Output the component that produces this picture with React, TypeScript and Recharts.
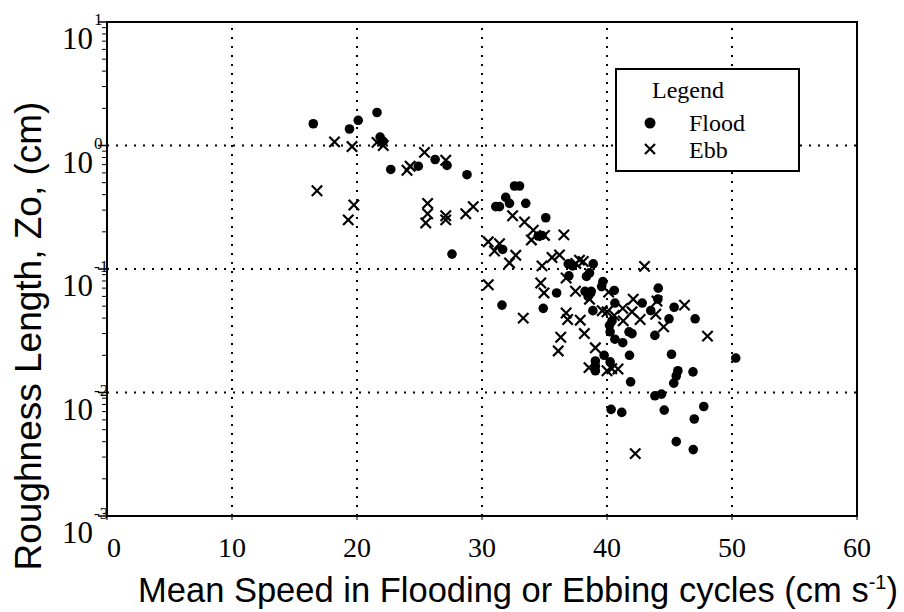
import React from 'react';
import { Legend, ReferenceArea, ReferenceLine, Scatter, ScatterChart, XAxis, YAxis } from 'recharts';

// Flood cycles: mean speed (cm/s) and roughness length Zo (cm)
const floodSpeed = [
  16.5, 19.4, 20.1, 21.6, 21.85, 22.1, 22.7, 24.9, 26.25, 27.2, 28.8, 27.6, 32.6, 33.0, 31.9, 32.2, 31.1, 31.4,
  33.5, 31.65, 35.1, 34.5, 34.8, 36.9, 37.25, 36.95, 38.9, 38.36, 38.6, 39.67, 39.57, 35.97, 38.24, 38.74, 38.49,
  40.58, 44.1, 44.07, 40.63, 42.82, 43.5, 45.37, 31.6, 34.9, 44.96, 43.83, 47.05, 40.2, 40.25, 41.76, 42.0, 40.63,
  41.26, 39.77, 41.8, 45.16, 39.07, 39.07, 39.07, 40.25, 41.89, 45.67, 45.54, 45.34, 46.88, 43.83, 44.36, 40.33,
  41.18, 44.58, 46.98, 45.54, 50.3, 47.74, 46.9, 38.87, 40.4,
];
const floodZo = [
  1.5, 1.36, 1.6, 1.85, 1.17, 1.08, 0.64, 0.68, 0.77, 0.69, 0.58, 0.132, 0.47, 0.47, 0.38, 0.34, 0.32, 0.32,
  0.34, 0.144, 0.26, 0.185, 0.187, 0.11, 0.106, 0.088, 0.11, 0.087, 0.093, 0.079, 0.072, 0.064, 0.066, 0.066, 0.06,
  0.067, 0.07, 0.057, 0.053, 0.053, 0.046, 0.049, 0.051, 0.048, 0.0395, 0.029, 0.0395, 0.035, 0.031, 0.031, 0.03, 0.027,
  0.0253, 0.02, 0.02, 0.0204, 0.018, 0.0164, 0.015, 0.0177, 0.0122, 0.015, 0.0136, 0.0119, 0.0147, 0.0094, 0.0097, 0.0073,
  0.0069, 0.0072, 0.0061, 0.004, 0.019, 0.0077, 0.00345, 0.046, 0.038,
];

// Ebb cycles
const ebbSpeed = [
  18.2, 19.6, 21.6, 22.1, 16.8, 19.75, 19.3, 25.4, 24.25, 24.0, 27.1, 25.65, 25.65, 25.5, 27.1, 27.1, 28.7, 29.3,
  32.45, 33.4, 30.5, 31.0, 31.4, 32.7, 32.2, 30.5, 33.95, 35.0, 36.55, 34.1, 34.8, 35.6, 36.2, 37.5, 37.8, 38.1,
  43.0, 36.73, 34.7, 34.96, 37.48, 38.6, 40.13, 42.1, 43.9, 46.2, 33.3, 36.73, 36.85, 37.86, 38.19, 39.62, 40.0,
  40.58, 41.26, 42.0, 41.3, 42.65, 44.53, 36.3, 36.1, 39.07, 38.56, 40.0, 40.38, 40.88, 48.04, 42.26, 44.0,
];
const ebbZo = [
  1.07, 0.98, 1.06, 1.0, 0.43, 0.33, 0.25, 0.88, 0.68, 0.63, 0.76, 0.34, 0.28, 0.236, 0.27, 0.25, 0.28, 0.32,
  0.27, 0.24, 0.166, 0.14, 0.16, 0.129, 0.112, 0.0746, 0.172, 0.187, 0.189, 0.206, 0.106, 0.124, 0.13, 0.111, 0.118, 0.115,
  0.105, 0.0846, 0.077, 0.064, 0.066, 0.057, 0.065, 0.057, 0.043, 0.051, 0.04, 0.044, 0.039, 0.0385, 0.03, 0.046, 0.045,
  0.042, 0.048, 0.045, 0.038, 0.039, 0.034, 0.028, 0.0217, 0.023, 0.0159, 0.015, 0.0156, 0.0155, 0.0286, 0.0032, 0.055,
];

const xTicks = [0, 10, 20, 30, 40, 50, 60];
const yMajor = [0.001, 0.01, 0.1, 1, 10];
const yExp = ['-3', '-2', '-1', '0', '1'];
const yMinorSteps = [2, 3, 4, 5, 6, 7, 8, 9];
const xGrid = [10, 20, 30, 40, 50];
const yGrid = [0.01, 0.1, 1];

const floodData = floodSpeed.map((s, i) => ({ speed: s, zo: floodZo[i] }));
const ebbData = ebbSpeed.map((s, i) => ({ speed: s, zo: ebbZo[i] }));

const yTicks = [...yMajor];
yMajor.slice(0, -1).forEach((d) => yMinorSteps.forEach((m) => yTicks.push(d * m)));
yTicks.sort((a, b) => a - b);

const serif = "'Liberation Serif', 'Times New Roman', serif";
const sans = "'Liberation Sans', Arial, sans-serif";

const YTick = (props: any) => {
  const { x, y, payload } = props;
  const idx = yMajor.indexOf(payload.value);
  if (idx < 0) {
    return <line x1={x} x2={x - 5} y1={y} y2={y} stroke="#000" strokeWidth={1} />;
  }
  return (
    <g>
      <line x1={x} x2={x - 9} y1={y} y2={y} stroke="#000" strokeWidth={1.5} />
      <text x={x - 14} y={y + 27} textAnchor="end" fontFamily={serif} fontSize={31} fill="#000">
        10
      </text>
      <text x={x - 13} y={y + 3} textAnchor="start" fontFamily={serif} fontSize={17} fill="#000">
        {yExp[idx]}
      </text>
    </g>
  );
};

const XTick = (props: any) => {
  const { x, y, payload } = props;
  return (
    <text x={x + (payload.value === 0 ? 7 : 0)} y={y + 37} textAnchor="middle" fontFamily={serif} fontSize={28} fill="#000">
      {payload.value}
    </text>
  );
};

const FloodDot = (props: any) => <circle cx={props.cx} cy={props.cy} r={4.8} fill="#000" />;

const EbbCross = (props: any) => {
  const { cx, cy } = props;
  const h = 5.2;
  return (
    <path
      d={`M${cx - h},${cy - h}L${cx + h},${cy + h}M${cx - h},${cy + h}L${cx + h},${cy - h}`}
      stroke="#000"
      strokeWidth={2.2}
      fill="none"
    />
  );
};

const LegendBox = () => (
  <div
    style={{
      width: 181,
      height: 100,
      border: '2px solid #000',
      background: '#fff',
      position: 'relative',
      fontFamily: serif,
      fontSize: 24,
      color: '#000',
      lineHeight: 1,
    }}
  >
    <div style={{ position: 'absolute', left: 35, top: 8 }}>Legend</div>
    <svg style={{ position: 'absolute', left: 25, top: 45 }} width={16} height={42}>
      <circle cx={8} cy={8} r={5.5} fill="#000" />
      <path d="M3,29L13,39M3,39L13,29" stroke="#000" strokeWidth={2.2} />
    </svg>
    <div style={{ position: 'absolute', left: 72, top: 41 }}>Flood</div>
    <div style={{ position: 'absolute', left: 72, top: 68 }}>Ebb</div>
  </div>
);

const App: React.FC = () => {
  return (
    <div style={{ position: 'absolute', left: 0, top: 0, width: 904, height: 612, background: '#fff' }}>
      <ScatterChart width={904} height={612} margin={{ top: 22, right: 47, bottom: 0, left: 0 }}>
        <XAxis
          type="number"
          dataKey="speed"
          domain={[0, 60]}
          ticks={xTicks}
          interval={0}
          height={96}
          tickSize={4}
          tickMargin={0}
          tick={<XTick />}
          stroke="#000"
          axisLine={{ stroke: '#000', strokeWidth: 2 }}
          label={() => (
            <text x={518} y={602} textAnchor="middle" fontFamily={sans} fontSize={34.5} fill="#000">
              Mean Speed in Flooding or Ebbing cycles (cm s
              <tspan dy={-13} fontSize={20}>-1</tspan>
              <tspan dy={13}>)</tspan>
            </text>
          )}
        />
        <YAxis
          type="number"
          dataKey="zo"
          scale="log"
          domain={[0.001, 10]}
          allowDataOverflow
          ticks={yTicks}
          interval={0}
          width={107}
          tickSize={0}
          tickMargin={0}
          tickLine={false}
          tick={<YTick />}
          axisLine={{ stroke: '#000', strokeWidth: 2 }}
          label={() => (
            <text
              transform="rotate(-90)"
              x={-336}
              y={41}
              textAnchor="middle"
              fontFamily={sans}
              fontSize={37}
              fill="#000"
            >
              Roughness Length, Zo, (cm)
            </text>
          )}
        />
        {xGrid.map((v) => (
          <ReferenceLine key={`vx-${v}`} x={v} stroke="#000" strokeWidth={2} strokeDasharray="2 7" />
        ))}
        {yGrid.map((v) => (
          <ReferenceLine key={`hy-${v}`} y={v} stroke="#000" strokeWidth={2} strokeDasharray="2 7" />
        ))}
        <ReferenceArea x1={0} x2={60} y1={0.001} y2={10} fill="none" stroke="#000" strokeWidth={2} />
        <Scatter name="Flood" data={floodData} shape={<FloodDot />} isAnimationActive={false} />
        <Scatter name="Ebb" data={ebbData} shape={<EbbCross />} isAnimationActive={false} />
        <Legend
          layout="vertical"
          verticalAlign="middle"
          align="center"
          content={() => <LegendBox />}
          wrapperStyle={{ left: 615, top: 68, width: 185, height: 104 }}
        />
      </ScatterChart>
    </div>
  );
};

export default App;
